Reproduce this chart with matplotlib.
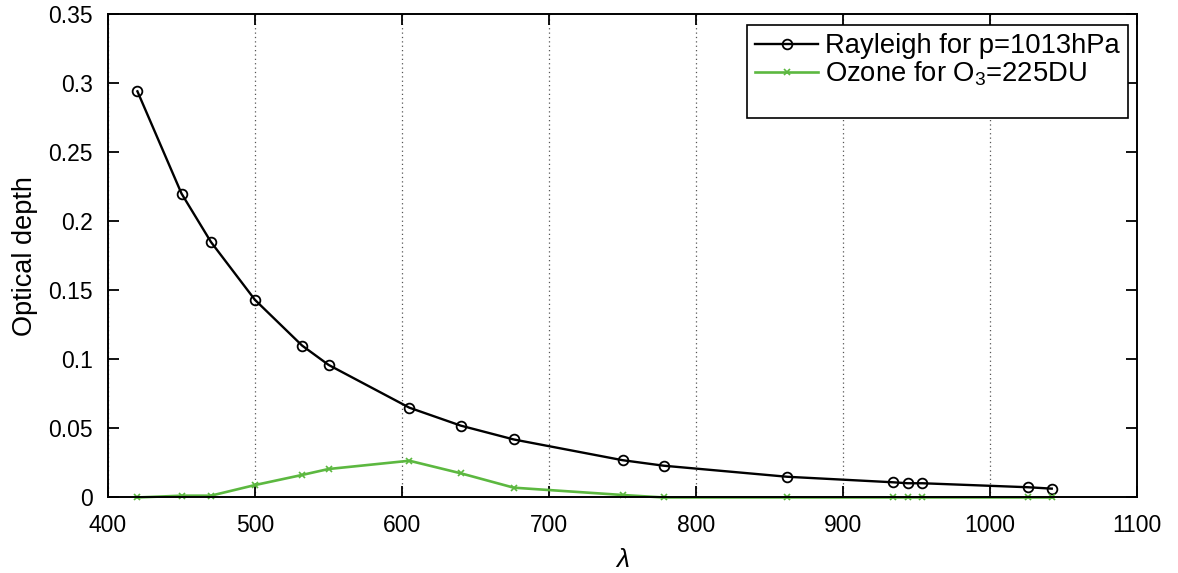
import matplotlib
matplotlib.use("Agg")
import matplotlib.pyplot as plt
from matplotlib.lines import Line2D
from matplotlib.ticker import FixedLocator, FixedFormatter

plt.rcParams["font.family"] = ["Liberation Sans", "DejaVu Sans"]
plt.rcParams["mathtext.fontset"] = "custom"
plt.rcParams["mathtext.rm"] = "Liberation Sans"
plt.rcParams["mathtext.it"] = "Liberation Sans:italic"

# Wavelengths (nm) of the channels
wavelength = [420, 450, 470, 500, 532, 550, 605, 640, 676, 750, 778,
              862, 934, 944, 954, 1026, 1042]

# Rayleigh optical depth at p = 1013 hPa
rayleigh = [0.294, 0.220, 0.185, 0.143, 0.110, 0.096, 0.065, 0.052, 0.042,
            0.027, 0.023, 0.015, 0.011, 0.0103, 0.0103, 0.0074, 0.0064]

# Ozone optical depth for 225 DU
ozone = [0.0, 0.0013, 0.0013, 0.009, 0.0163, 0.0206, 0.0266, 0.0175, 0.0071,
         0.0018, 0.0, 0.0, 0.0, 0.0, 0.0, 0.0, 0.0]

x_ticks = [400, 500, 600, 700, 800, 900, 1000, 1100]
y_ticks = [0, 0.05, 0.1, 0.15, 0.2, 0.25, 0.3, 0.35]
y_tick_labels = ["0", "0.05", "0.1", "0.15", "0.2", "0.25", "0.3", "0.35"]

green = "#5cb840"

fig = plt.figure(figsize=(11.78, 5.73), dpi=100)
ax = fig.add_axes([0.0917, 0.1318, 0.8735, 0.8438])

ax.plot(wavelength, rayleigh, color="black", lw=1.7, marker="o", ms=7,
        mfc="none", mec="black", mew=1.3, label="Rayleigh for p=1013hPa")
ax.plot(wavelength, ozone, color=green, lw=1.9, marker="x", ms=5,
        mec=green, mew=1.2, label="Ozone for O$_3$=225DU", clip_on=False)

ax.set_xlim(400, 1100)
ax.set_ylim(0, 0.35)
ax.xaxis.set_major_locator(FixedLocator(x_ticks))
ax.yaxis.set_major_locator(FixedLocator(y_ticks))
ax.yaxis.set_major_formatter(FixedFormatter(y_tick_labels))

ax.tick_params(direction="in", length=8, width=1.3, top=True, right=True,
               labelsize=16.5)
ax.tick_params(axis="y", pad=11)
ax.tick_params(axis="x", pad=12)
for side in ax.spines.values():
    side.set_linewidth(1.4)

ax.grid(axis="x", linestyle=(0, (1, 2.5)), color="#555555", linewidth=0.9)
ax.set_axisbelow(True)

ax.set_xlabel(r"$\lambda$", fontsize=19, labelpad=8)
ax.set_ylabel("Optical depth", fontsize=19.5, labelpad=7)

# Legend box keeps an empty row below the two entries
handles, labels = ax.get_legend_handles_labels()
handles.append(Line2D([], [], color="none"))
labels.append(" ")
leg = ax.legend(handles, labels, loc="upper right",
                bbox_to_anchor=(0.9913, 0.977), fontsize=19.7,
                frameon=True, fancybox=False, edgecolor="black",
                handlelength=2.3, handletextpad=0.25, borderpad=0.3,
                labelspacing=0.0, borderaxespad=0.0)
leg.get_frame().set_linewidth(1.2)
leg.get_frame().set_alpha(1.0)
# trim the blank row so the box ends a little above its full height
leg.get_texts()[2].set_fontsize(12)

fig.savefig("out.png", dpi=100)
